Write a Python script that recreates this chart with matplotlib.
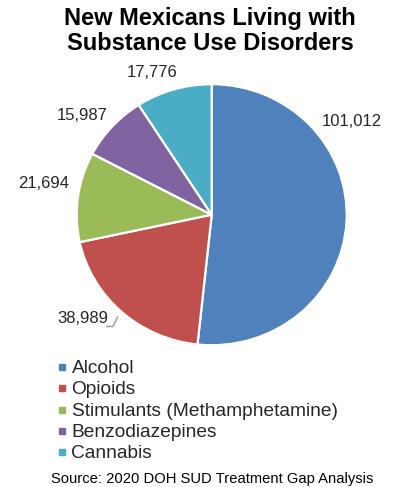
import matplotlib.pyplot as plt
from matplotlib.lines import Line2D

plt.rcParams["font.family"] = ["Liberation Sans", "DejaVu Sans"]

categories = ["Alcohol", "Opioids", "Stimulants (Methamphetamine)",
              "Benzodiazepines", "Cannabis"]
counts = [101012, 38989, 21694, 15987, 17776]
colors = ["#4F81BD", "#C0504D", "#9BBB59", "#8064A2", "#4BACC6"]

W, H = 399, 487
fig = plt.figure(figsize=(W / 100, H / 100), dpi=100)


def px(x, y):
    # pixel position (from top-left) -> figure fraction
    return x / W, 1 - y / H


# pie axes; the source image is a little wider than tall
cx, cy, rx, ry = 211.7, 214.7, 135, 130.5
pad = 1.03
ax = fig.add_axes([(cx - rx * pad) / W, 1 - (cy + ry * pad) / H,
                   2 * rx * pad / W, 2 * ry * pad / H])
wedges, _ = ax.pie(counts, colors=colors, startangle=90, counterclock=False,
                   wedgeprops=dict(edgecolor="white", linewidth=1.6))
ax.set_aspect("auto")
ax.set_xlim(-pad, pad)
ax.set_ylim(-pad, pad)
ax.axis("off")

# title
fig.text(*px(210, 25.5), "New Mexicans Living with", ha="center", va="baseline",
         fontsize=17, fontweight="bold")
fig.text(*px(210, 50.5), "Substance Use Disorders", ha="center", va="baseline",
         fontsize=17, fontweight="bold")

# data labels (outside end, Excel best fit)
label_xy = [(352, 121), (82.5, 318.5), (44, 184), (82, 115), (152, 72.5)]
for (lx, ly), v in zip(label_xy, counts):
    fig.text(*px(lx, ly), f"{v:,}", ha="center", va="center",
             fontsize=12, color="#262626")

# leader line for the opioids label
lx, ly = zip(px(107, 326.5), px(113, 326.5), px(117.5, 317))
fig.add_artist(Line2D(lx, ly, color="#A6A6A6", lw=1.2))

# legend
for i, (name, c) in enumerate(zip(categories, colors)):
    base = 373.3 + i * 21.2
    mx, my = px(61.7, base - 6.2)
    fig.add_artist(Line2D([mx], [my], marker="s", markersize=4.6,
                          color=c, linestyle="none"))
    fig.text(*px(71.5, base), name, ha="left", va="baseline",
             fontsize=13.8, color="#262626")

fig.text(*px(211.7, 482.5), "Source: 2020 DOH SUD Treatment Gap Analysis",
         ha="center", va="baseline", fontsize=10.6, color="black")

fig.savefig("out.png", dpi=100)
